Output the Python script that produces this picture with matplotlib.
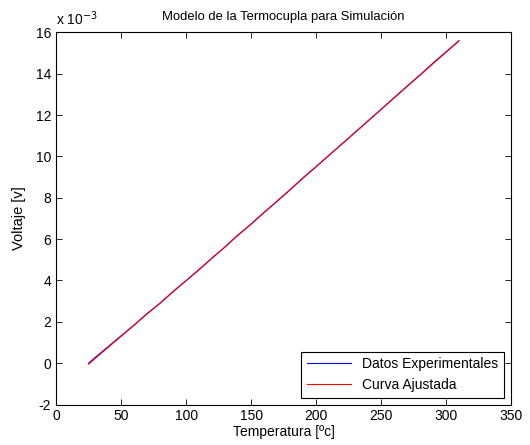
import matplotlib
matplotlib.use("Agg")
import matplotlib.pyplot as plt
from matplotlib.ticker import FuncFormatter

plt.rcParams['font.family'] = ['Liberation Sans', 'DejaVu Sans']
plt.rcParams['font.size'] = 10

# === Datos (temperatura en ºC, voltaje en V) ===
temperatura = [25, 30, 40, 50, 60, 70, 80, 90, 100, 110, 120, 130, 140, 150, 160,
               170, 180, 190, 200, 210, 220, 230, 240, 250, 260, 270, 280, 290, 300, 310]
v_experimental = [0.000000, 0.000275, 0.000800, 0.001325, 0.001845, 0.002400, 0.002900,
                  0.003470, 0.003990, 0.004520, 0.005090, 0.005620, 0.006210, 0.006720,
                  0.007300, 0.007830, 0.008380, 0.008970, 0.009500, 0.010060, 0.010610,
                  0.011160, 0.011720, 0.012270, 0.012840, 0.013400, 0.013940, 0.014520,
                  0.015060, 0.015600]
v_ajustada = [-0.000050, 0.000230, 0.000765, 0.001300, 0.001840, 0.002385, 0.002910,
              0.003455, 0.003995, 0.004535, 0.005080, 0.005630, 0.006190, 0.006735,
              0.007285, 0.007840, 0.008395, 0.008955, 0.009505, 0.010055, 0.010610,
              0.011165, 0.011720, 0.012275, 0.012830, 0.013380, 0.013935, 0.014490,
              0.015040, 0.015590]

fig = plt.figure(figsize=(5.3, 4.45), dpi=100)
ax = fig.add_axes([0.106, 0.091, 0.858, 0.836])

ax.plot(temperatura, v_experimental, color="blue", lw=0.8, label="Datos Experimentales")
ax.plot(temperatura, v_ajustada, color="red", lw=0.8, label="Curva Ajustada")

ax.set_xlim(0, 350)
ax.set_ylim(-0.002, 0.016)
ax.set_xticks(range(0, 351, 50))
ax.set_yticks([i * 0.002 for i in range(-1, 9)])
ax.yaxis.set_major_formatter(FuncFormatter(lambda v, p: "%d" % round(v * 1e3)))
ax.tick_params(direction="in", top=True, right=True, length=4, width=0.6)
for s in ax.spines.values():
    s.set_linewidth(0.8)

ax.text(0.0, 1.012, r"x 10$^{-3}$", transform=ax.transAxes, ha="left", va="bottom")
ax.set_title("Modelo de la Termocupla para Simulación", fontsize=9.4, pad=9)
ax.set_xlabel("Temperatura [ºc]", labelpad=1)
ax.set_ylabel("Voltaje [v]", fontsize=10.5, labelpad=7)

leg = ax.legend(loc="lower right", fancybox=False, edgecolor="black",
                handlelength=3.2, borderaxespad=0.5, framealpha=1)
leg.get_frame().set_linewidth(0.8)

fig.savefig("out.png", dpi=100)
